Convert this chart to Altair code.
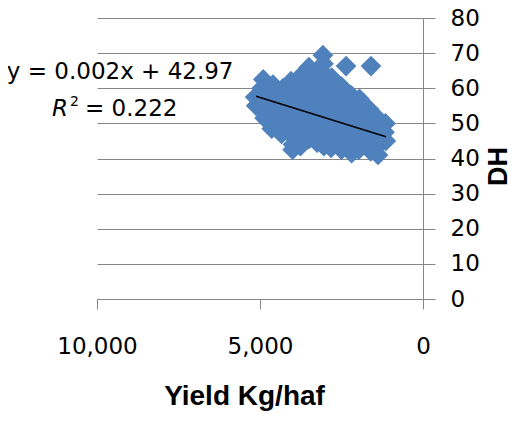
import altair as alt
import pandas as pd

# ---- data ----
yield_kg = [
    5150, 5120,
    4900, 4950, 4880, 4930, 4860,
    4600, 4650, 4580, 4620, 4560, 4640,
    4300, 4350, 4280, 4320, 4260, 4340,
    4050, 4080, 4020, 4060, 4000, 4070, 3990, 4000,
    3750, 3780, 3720, 3760, 3700, 3790, 3730, 3760,
    3500, 3520, 3470, 3510, 3450, 3530, 3480, 3500,
    3250, 3280, 3220, 3260, 3200, 3270, 3230, 3250,
    3070, 3050, 3020, 3060, 3000, 3080, 3030, 3050, 3010, 3040,
    2800, 2830, 2770, 2810, 2760, 2840, 2790, 2800, 2820,
    2500, 2530, 2470, 2510, 2460, 2540, 2490, 2500,
    2360,
    2200, 2230, 2170, 2210, 2160, 2240, 2190,
    1950, 1980, 1920, 1960, 1900, 1970,
    1650, 1680, 1620, 1660, 1600,
    1595,
    1400, 1430, 1370, 1410, 1380,
    1150, 1180, 1140,
]
dh = [
    57.5, 55,
    62.5, 60, 57, 54, 51.5,
    61, 58.5, 56, 53, 50.5, 48.5,
    60, 57.5, 55, 52, 49.5, 47,
    62, 59, 56.5, 53.5, 50, 47, 44, 42.5,
    63.5, 60.5, 58, 55, 52, 49, 46, 43.5,
    66, 63, 60, 57, 54, 51, 48.5, 45.5,
    65, 62, 59, 56.5, 53, 50, 47, 44.5,
    69.4, 67, 64, 61, 58, 55, 52, 49, 46, 43.5,
    63, 60.5, 58, 55.5, 53, 50.5, 48, 45, 43,
    60.5, 58, 55.5, 53, 50, 47.5, 44.5, 42.5,
    66.3,
    58, 55, 52, 49, 46, 43.5, 41.5,
    57, 54, 51.5, 48.5, 45.5, 42.5,
    54, 51, 48, 45, 42,
    66.3,
    51.5, 49, 46.5, 43.5, 41,
    50, 47.5, 45,
]

# linear trendline shown on the chart
trend_slope = 0.00289
trend_intercept = 42.9
trend_x = [1135, 5120]

eq_line = "y = 0.002x + 42.97"
r2_rest = "= 0.222"

x_ticks = [0, 5000, 10000]
y_ticks = [0, 10, 20, 30, 40, 50, 60, 70, 80]

# annotation anchors (in data units)
eq_pos = {"Yield": [9290], "DH": [64.5]}
r2_pos = {"Yield": [11380], "DH": [54.2]}

# ---- build ----
df = pd.DataFrame({"Yield": yield_kg, "DH": dh})
trend_df = pd.DataFrame({
    "Yield": trend_x,
    "DH": [trend_intercept + trend_slope * v for v in trend_x],
})
eq_df = pd.DataFrame(eq_pos)
r2_df = pd.DataFrame(r2_pos)

BLUE = "#4F81BD"
GRAY = "#868686"

xscale = alt.Scale(domain=[0, 10000], reverse=True, nice=False, zero=False)
yscale = alt.Scale(domain=[0, 80], nice=False)

x_axis = alt.Axis(
    values=x_ticks, format=",.0f", grid=False,
    domainColor=GRAY, tickColor=GRAY, tickSize=10, domainWidth=1, tickWidth=1,
    labelFont="DejaVu Sans", labelFontSize=23, labelColor="black",
    labelPadding=26, labelFlush=False, labelOverlap=False,
    title="Yield Kg/haf", titleFont="Liberation Sans", titleFontSize=28,
    titleFontWeight="bold", titleColor="black",
    titleX=147, titleY=97, titleAlign="center", titleBaseline="middle",
)
y_axis = alt.Axis(
    orient="right", values=y_ticks, format="d", grid=True, gridColor=GRAY, gridWidth=1,
    domainColor=GRAY, tickColor=GRAY, tickSize=12, domainWidth=1, tickWidth=1,
    labelFont="DejaVu Sans", labelFontSize=23, labelColor="black",
    labelPadding=15, labelFlush=False, labelOverlap=False,
    title="DH", titleFont="Liberation Sans", titleFontSize=27,
    titleFontWeight="bold", titleColor="black", titleAngle=270,
    titleX=75, titleY=148, titleAlign="center", titleBaseline="middle",
)

X = alt.X("Yield:Q", scale=xscale, axis=x_axis)
Y = alt.Y("DH:Q", scale=yscale, axis=y_axis)

points = alt.Chart(df).mark_point(
    shape="diamond", filled=True, size=430, color=BLUE, opacity=1
).encode(x=X, y=Y)

trend = alt.Chart(trend_df).mark_line(color="black", strokeWidth=1.5).encode(x=X, y=Y)

eq_text = alt.Chart(eq_df).mark_text(
    text=eq_line, font="DejaVu Sans", fontSize=23, color="black",
    align="center", baseline="middle"
).encode(x=X, y=Y)

r_text = alt.Chart(r2_df).mark_text(
    text="R", font="DejaVu Sans", fontSize=23, fontStyle="italic", color="black",
    align="left", baseline="middle"
).encode(x=X, y=Y)

sup_text = alt.Chart(r2_df).mark_text(
    text="2", font="DejaVu Sans", fontSize=14, color="black",
    align="left", baseline="middle", dx=18, dy=-7
).encode(x=X, y=Y)

r2_text = alt.Chart(r2_df).mark_text(
    text=r2_rest, font="DejaVu Sans", fontSize=23, color="black",
    align="left", baseline="middle", dx=33
).encode(x=X, y=Y)

chart = alt.layer(points, trend, eq_text, r_text, sup_text, r2_text).properties(
    width=326, height=281,
    autosize=alt.AutoSizeParams(type="none"),
    padding={"left": 89, "top": 10, "right": 89, "bottom": 114},
    background="white",
).configure_view(stroke=None)

chart.save("out.html", embed_options={"renderer": "svg", "actions": False})
